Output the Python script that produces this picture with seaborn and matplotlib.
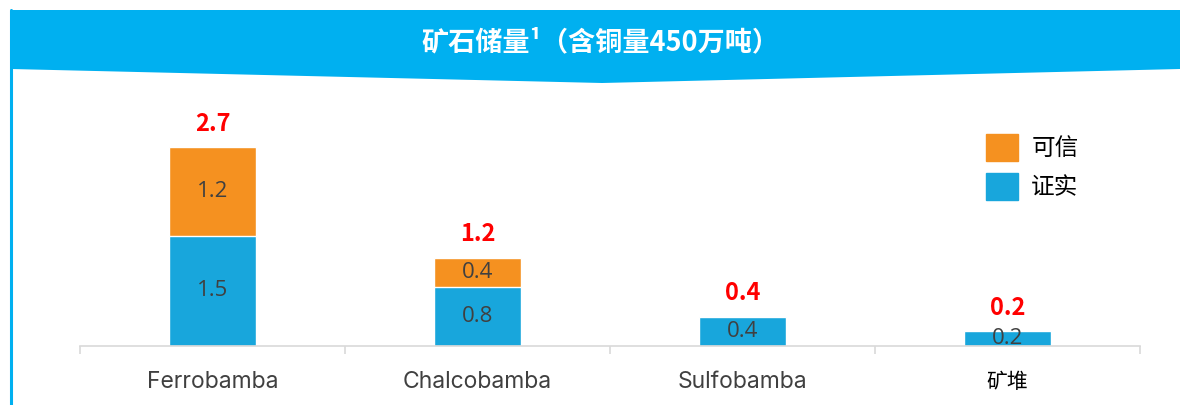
import matplotlib
matplotlib.use("Agg")
import matplotlib.pyplot as plt
import matplotlib.patches as mpatches
import numpy as np
import pandas as pd
import seaborn as sns

# data
categories = ["Ferrobamba", "Chalcobamba", "Sulfobamba", "矿堆"]
proven = [1.5, 0.8, 0.4, 0.2]
probable = [1.2, 0.4, 0.0, 0.0]
totals = [2.7, 1.2, 0.4, 0.2]
legend_labels = ["可信", "证实"]
title = "矿石储量¹（含铜量450万吨）"

BLUE = "#18A6DC"
ORANGE = "#F59120"
HEADER = "#00B0F0"
GREY_TEXT = "#404040"
CJK = ["Noto Sans CJK SC", "DejaVu Sans"]

sns.set_theme(style="white")
plt.rcParams["font.family"] = CJK

df = pd.DataFrame({"site": categories, "proven": proven, "probable": probable, "total": totals})

W, H = 1180, 405
fig = plt.figure(figsize=(W / 100, H / 100), dpi=100)

# header band and left rule drawn in a full-figure overlay axes
bg = fig.add_axes([0, 0, 1, 1])
bg.set_xlim(0, W)
bg.set_ylim(H, 0)
bg.axis("off")
bg.add_patch(mpatches.Polygon([[11, 10], [W, 10], [W, 69], [602, 83], [11, 69]],
                              closed=True, color=HEADER, lw=0))
bg.plot([11, 11], [10, H], color=HEADER, lw=2.2)
bg.text(600, 42, title, color="white", fontsize=19.5, fontweight="bold",
        ha="center", va="center", family=CJK)

ax = fig.add_axes([80 / W, (H - 346) / H, (1140 - 80) / W, (346 - 100) / H])
sns.barplot(data=df, x="site", y="total", color=ORANGE, width=0.33, saturation=1,
            ax=ax, label=legend_labels[0])
sns.barplot(data=df, x="site", y="proven", color=BLUE, width=0.33, saturation=1,
            ax=ax, label=legend_labels[1])

ax.set_xlim(-0.5, len(categories) - 0.5)
ax.set_ylim(0, 3.34)
ax.set_xlabel("")
ax.set_ylabel("")
ax.set_yticks([])
for side in ["top", "right", "left"]:
    ax.spines[side].set_visible(False)
ax.spines["bottom"].set_color("#D9D9D9")
ax.spines["bottom"].set_linewidth(1.2)

ax.set_xticks(np.arange(len(categories)))
ax.set_xticks(np.arange(len(categories) + 1) - 0.5, minor=True)
ax.tick_params(axis="x", which="major", length=0, pad=18)
ax.tick_params(axis="x", which="minor", bottom=True, length=6, color="#D9D9D9", width=1.2)
ax.set_xticklabels(categories)
for lbl in ax.get_xticklabels():
    if lbl.get_text() == "矿堆":
        lbl.set_family(CJK)
        lbl.set_fontsize(15)
        lbl.set_color("black")
    else:
        lbl.set_family(["Inter", "DejaVu Sans"])
        lbl.set_fontsize(16.5)
        lbl.set_color(GREY_TEXT)

# segment labels
for i, row in df.iterrows():
    ax.text(i, row["proven"] / 2, f"{row['proven']:.1f}", ha="center", va="center",
            fontsize=16, color=GREY_TEXT, family=["Open Sans", "DejaVu Sans"])
    if row["probable"] > 0:
        ax.text(i, row["proven"] + row["probable"] / 2, f"{row['probable']:.1f}",
                ha="center", va="center", fontsize=16, color=GREY_TEXT,
                family=["Open Sans", "DejaVu Sans"])
    ax.annotate(f"{row['total']:.1f}", (i, row["total"]), xytext=(0, 17),
                textcoords="offset points", ha="center", va="center",
                fontsize=17, fontweight="bold", color="#FF0000", family=CJK)

handles = [mpatches.Patch(color=ORANGE), mpatches.Patch(color=BLUE)]
leg = ax.legend(handles, legend_labels, loc="upper left", bbox_to_anchor=(0.835, 0.95),
                frameon=False, handlelength=1.35, handleheight=1.4,
                handletextpad=0.55, labelspacing=0.5, prop={"family": CJK, "size": 17})
for t in leg.get_texts():
    t.set_color("black")

fig.savefig("out.png", dpi=100)
